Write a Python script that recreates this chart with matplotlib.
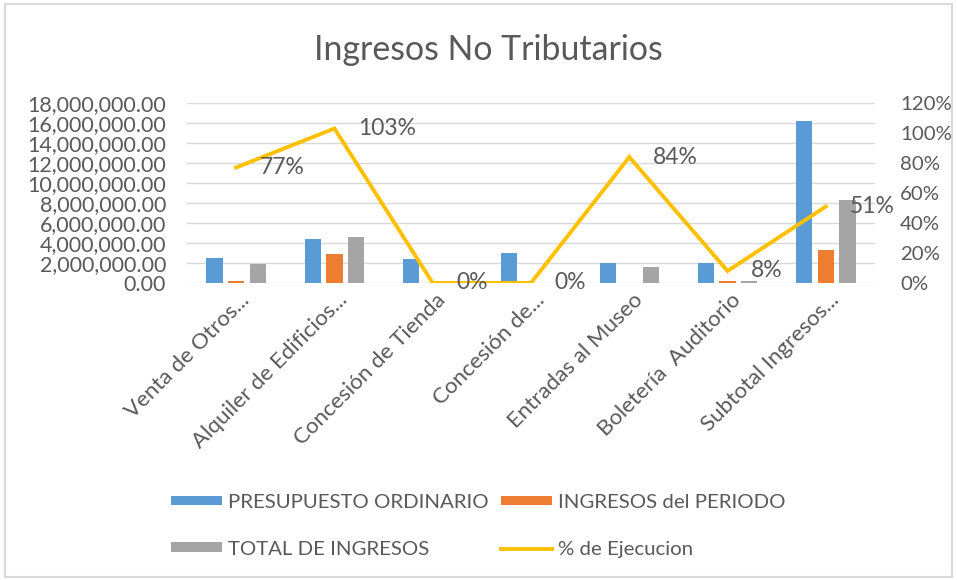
import matplotlib
matplotlib.use("Agg")
import matplotlib.pyplot as plt
import matplotlib.transforms as mtransforms
import numpy as np
from matplotlib.patches import Rectangle
from matplotlib.ticker import FuncFormatter, PercentFormatter

plt.rcParams['font.family'] = ['Lato', 'DejaVu Sans']

# Data
categories = ["Venta de Otros...", "Alquiler de Edificios...", "Concesión de Tienda",
              "Concesión de...", "Entradas al Museo", "Boletería  Auditorio",
              "Subtotal Ingresos..."]
presupuesto = [2450000, 4380000, 2350000, 2980000, 1950000, 1950000, 16200000]
ingresos_periodo = [170000, 2880000, 0, 0, 0, 170000, 3250000]
total_ingresos = [1880000, 4550000, 0, 0, 1630000, 150000, 8270000]
pct_ejecucion = [77, 103, 0, 0, 84, 8, 51]

TXT = "#595959"
C_BLUE = "#5B9BD5"
C_ORANGE = "#ED7D31"
C_GRAY = "#A5A5A5"
C_LINE = "#FFC000"

fig = plt.figure(figsize=(9.57, 5.8), dpi=100)
ax = fig.add_axes([187/957, 1 - 283/580, (875-187)/957, (283-103)/580])

x = np.arange(len(categories))
w = 0.165
ax.bar(x - 0.22, presupuesto, w, color=C_BLUE, label="PRESUPUESTO ORDINARIO", zorder=2)
ax.bar(x, ingresos_periodo, w, color=C_ORANGE, label="INGRESOS del PERIODO", zorder=2)
ax.bar(x + 0.22, total_ingresos, w, color=C_GRAY, label="TOTAL DE INGRESOS", zorder=2)

ax.set_xlim(-0.5, len(categories) - 0.5)
ax.set_ylim(0, 18000000)
ax.set_yticks(np.arange(0, 18000001, 2000000))
ax.yaxis.set_major_formatter(FuncFormatter(lambda v, p: f"{v:,.2f}"))
ax.grid(axis='y', color="#D9D9D9", linewidth=1, zorder=0)
ax.set_axisbelow(True)
for s in ax.spines.values():
    s.set_visible(False)
ax.tick_params(axis='y', length=0, labelsize=15.5, colors=TXT, pad=15)
ax.tick_params(axis='x', length=0, pad=8)
ax.set_xticks(x)
ax.set_xticklabels(categories, rotation=45, ha='right', va='center',
                   rotation_mode='anchor', fontsize=16, color=TXT)
shift = mtransforms.ScaledTranslation(10/100, -3/100, fig.dpi_scale_trans)
for lbl in ax.get_xticklabels():
    lbl.set_transform(lbl.get_transform() + shift)

ax2 = ax.twinx()
ax2.plot(x, pct_ejecucion, color=C_LINE, linewidth=2.8, label="% de Ejecucion",
         solid_joinstyle='miter', zorder=3)
ax2.set_ylim(0, 120)
ax2.set_yticks(np.arange(0, 121, 20))
ax2.yaxis.set_major_formatter(PercentFormatter(decimals=0))
for s in ax2.spines.values():
    s.set_visible(False)
ax2.tick_params(axis='y', length=0, labelsize=14.7, colors=TXT, pad=18)
for xi, v in zip(x, pct_ejecucion):
    ax2.annotate(f"{v}%", (xi, v), xytext=(17, 0), textcoords='offset points',
                 ha='left', va='center', fontsize=16.5, color=TXT)

fig.text(488/957, 1 - 50/580, "Ingresos No Tributarios", ha='center', va='center',
         fontsize=24.4, color=TXT)

h1, l1 = ax.get_legend_handles_labels()
h2, l2 = ax2.get_legend_handles_labels()
handles = [h1[0], h1[2], h1[1], h2[0]]
labels = [l1[0], l1[2], l1[1], l2[0]]
fig.legend(handles, labels, ncol=2, loc='upper left', bbox_to_anchor=(171/957, 1 - 494/580),
           frameon=False, fontsize=14.7, labelcolor=TXT, handlelength=2.5,
           handleheight=0.35, handletextpad=0.3, columnspacing=0.6, labelspacing=1.45,
           borderpad=0, borderaxespad=0)

fig.patches.append(Rectangle((5/957, 3/580), 947/957, 573/580, transform=fig.transFigure,
                             fill=False, edgecolor="#D9D9D9", linewidth=1.5))

fig.savefig("out.png", dpi=100)
